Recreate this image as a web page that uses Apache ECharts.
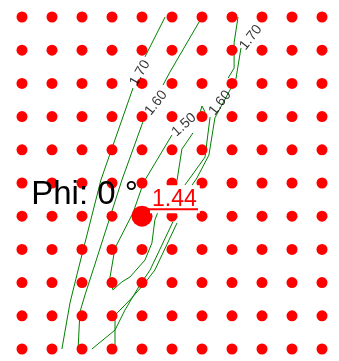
<!DOCTYPE html>
<html>
<head>
<meta charset="utf-8">
<script src="https://cdn.jsdelivr.net/npm/echarts@6/dist/echarts.min.js"></script>
<style>html,body{margin:0;padding:0;background:#fff}#main{width:339px;height:361px}</style>
</head>
<body>
<div id="main"></div>
<script type="text/javascript">
// sample grid (column / row index)
var cols = [0, 1, 2, 3, 4, 5, 6, 7, 8, 9, 10];
var rows = [0, 1, 2, 3, 4, 5, 6, 7, 8, 9, 10];

// minimum point
var minPoint = [4, 6];
var minValue = '1.44';
var phiText = 'Phi: 0 °';

// contour pieces, in grid units (x = column, y = row from top)
var contour170 = [
    [[4.77, 0], [4.10, 1.20]],
    [[3.70, 2.14], [2.63, 4.91], [1.87, 7.62], [1.60, 8.61], [1.33, 10]],
    [[7.30, 0.93], [7.13, 1.87], [6.43, 3.04], [6.23, 4.16], [5.83, 4.85], [5.67, 5.06]],
    [[5.17, 6.20], [4.43, 7.62], [4.10, 8.01], [3.60, 8.52], [3.10, 8.98], [3.10, 10]]
];
var contour160 = [
    [[6.0, 0], [4.93, 1.66], [4.70, 2.05]],
    [[4.03, 3.16], [3.33, 4.91], [2.37, 7.62], [2.10, 8.37], [1.93, 8.89], [1.87, 10]],
    [[7.2, 0], [7.07, 0.78], [7.07, 1.54], [6.87, 1.84]],
    [[6.27, 3.01], [6.10, 4.22], [5.60, 4.85], [5.43, 5.06]],
    [[5.03, 6.17], [4.27, 7.62], [3.93, 8.07], [3.43, 8.83], [3.10, 9.43], [2.33, 10]]
];
var contour150 = [
    [[5.70, 3.49], [5.33, 3.98], [5.17, 4.91], [4.93, 5.30]],
    [[4.60, 5.72], [4.43, 6.11], [4.33, 6.81], [4.10, 7.32], [3.60, 7.83], [3.33, 7.98],
     [3.03, 8.22], [2.93, 7.86], [3.10, 6.96], [3.70, 5.90], [4.0, 5.12], [4.10, 4.91], [5.0, 3.55]],
    [[5.93, 2.89], [6.0, 2.68], [6.10, 2.86]]
];

// contour labels
var labelText = ['1.70', '1.60', '1.50', '1.60', '1.70'];
var labelPos = [[3.93, 1.69], [4.47, 2.59], [5.40, 3.25], [6.60, 2.59], [7.63, 0.62]];
var labelAngle = [60, 52, 42, 52, 52];

var chart = echarts.init(document.getElementById('main'));

var dots = [];
for (var i = 0; i < rows.length; i++) {
    for (var j = 0; j < cols.length; j++) {
        dots.push([cols[j], rows[i]]);
    }
}

var segs = [];
[contour170, contour160, contour150].forEach(function (c) {
    c.forEach(function (s) { segs.push({coords: s}); });
});

var labels = [];
for (var k = 0; k < labelText.length; k++) {
    labels.push({
        value: labelPos[k],
        name: labelText[k],
        label: {rotate: labelAngle[k]}
    });
}

option = {
    animation: false,
    grid: {left: 22, right: 17, top: 17, bottom: 12},
    xAxis: {type: 'value', min: 0, max: 10, show: false},
    yAxis: {type: 'value', min: 0, max: 10, inverse: true, show: false},
    series: [
        {
            type: 'lines',
            coordinateSystem: 'cartesian2d',
            polyline: true,
            z: 1,
            silent: true,
            lineStyle: {color: '#008000', width: 1, opacity: 1},
            data: segs
        },
        {
            type: 'scatter',
            z: 2,
            symbolSize: 11,
            itemStyle: {color: '#ff0000', opacity: 1},
            data: dots
        },
        {
            type: 'scatter',
            z: 3,
            symbolSize: 21,
            itemStyle: {color: '#ff0000', opacity: 1},
            data: [minPoint]
        },
        {
            type: 'scatter',
            z: 4,
            symbolSize: 0,
            label: {
                show: true,
                position: 'inside',
                formatter: function (p) { return p.name; },
                color: '#000',
                fontSize: 14,
                fontFamily: 'Liberation Sans'
            },
            data: labels
        }
    ]
};
chart.setOption(option);

var p = chart.convertToPixel({gridIndex: 0}, minPoint);
chart.setOption({
    graphic: [
        {
            type: 'text', z: 100,
            style: {
                x: p[0] - 4, y: p[1] - 21,
                text: phiText,
                align: 'right', verticalAlign: 'middle',
                fill: '#000',
                font: '33px "Liberation Sans"'
            }
        },
        {
            type: 'text', z: 100,
            style: {
                x: p[0] + 8, y: p[1] - 17,
                text: minValue,
                align: 'left', verticalAlign: 'middle',
                fill: '#ff0000',
                font: '23px "Liberation Sans"',
                backgroundColor: '#fff',
                padding: [4, 3, 1, 2]
            }
        },
        {
            type: 'line', z: 101,
            shape: {x1: p[0], y1: p[1] - 7, x2: p[0] + 56, y2: p[1] - 7},
            style: {stroke: '#ff0000', lineWidth: 2}
        }
    ]
});
</script>
</body>
</html>
